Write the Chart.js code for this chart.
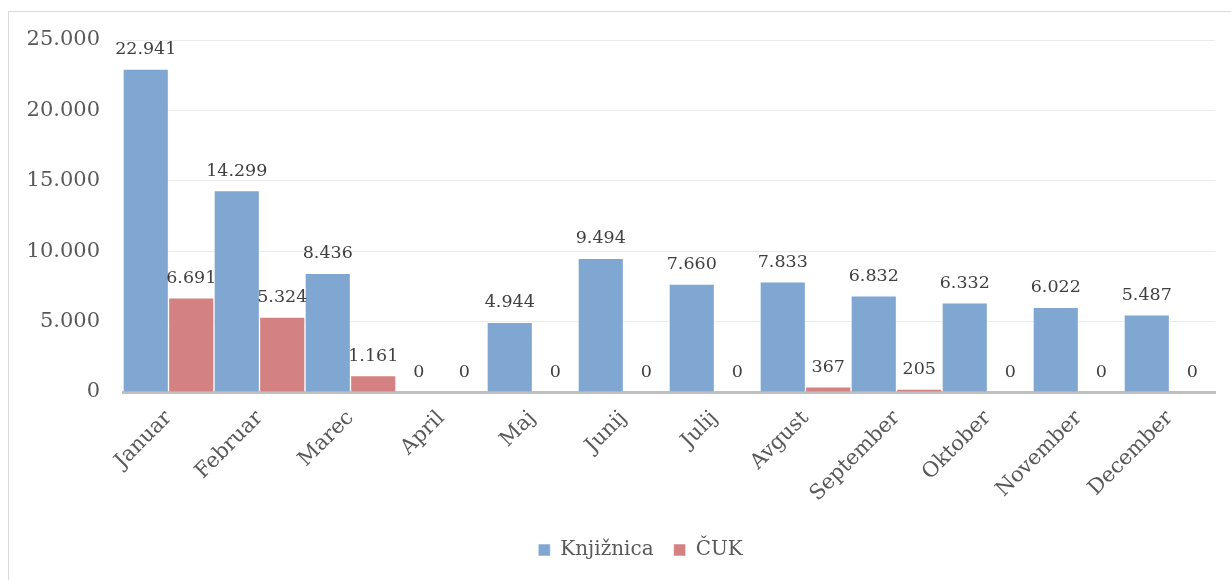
<!DOCTYPE html>
<html>
<head>
<meta charset="utf-8">
<script src="https://cdn.jsdelivr.net/npm/chart.js@4"></script>
<style>
  html, body { margin: 0; padding: 0; background: #fff; overflow: hidden; }
  #frame { position: absolute; left: 8px; top: 11px; width: 1300px; height: 700px; border: 1px solid #d9d9d9; }
  #wrap { position: absolute; left: 0; top: 0; width: 1231px; height: 580px; }
</style>
</head>
<body>
<div id="frame"></div>
<div id="wrap"><canvas id="chart" width="1231" height="580"></canvas></div>
<script>
const months = ['Januar','Februar','Marec','April','Maj','Junij','Julij','Avgust','September','Oktober','November','December'];
const knjiznica = [22941,14299,8436,0,4944,9494,7660,7833,6832,6332,6022,5487];
const cuk = [6691,5324,1161,0,0,0,0,367,205,0,0,0];

const serif = "'DejaVu Serif', 'Liberation Serif', serif";

// 22941 -> 22.941
const fmt = v => String(v).replace(/\B(?=(\d{3})+(?!\d))/g, '.');

const valueLabels = {
    id: 'valueLabels',
    afterDatasetsDraw(c) {
        const ctx = c.ctx;
        ctx.save();
        ctx.font = '17.5px ' + serif;
        ctx.fillStyle = '#404040';
        ctx.textAlign = 'center';
        ctx.textBaseline = 'alphabetic';
        c.data.datasets.forEach((ds, i) => {
            c.getDatasetMeta(i).data.forEach((bar, j) => {
                ctx.fillText(fmt(ds.data[j]), bar.x, bar.y - 15);
            });
        });
        ctx.restore();
    }
};

// legend in the original sits a bit right of the canvas centre
const shiftLegend = {
    id: 'shiftLegend',
    afterLayout(c) {
        c.legend.left += 33;
        c.legend.right += 33;
    }
};

const chart = document.querySelector('#chart').getContext('2d');

new Chart(chart, {
    type: 'bar',
    data: {
        labels: months,
        datasets: [
            {
                label: 'Knjižnica',
                data: knjiznica,
                backgroundColor: '#80a7d1',
                borderColor: 'rgba(255,255,255,0.5)',
                borderWidth: 1,
                barPercentage: 1,
                categoryPercentage: 1
            },
            {
                label: 'ČUK',
                data: cuk,
                backgroundColor: '#d48181',
                borderColor: 'rgba(255,255,255,0.5)',
                borderWidth: 1,
                barPercentage: 1,
                categoryPercentage: 1
            }
        ]
    },
    options: {
        responsive: false,
        animation: false,
        layout: { padding: { left: 0, right: 16, top: 40, bottom: 10 } },
        plugins: {
            tooltip: { enabled: false },
            legend: {
                position: 'bottom',
                labels: {
                    font: { family: serif, size: 20 },
                    color: '#595959',
                    boxWidth: 12,
                    boxHeight: 12,
                    padding: 20
                }
            }
        },
        scales: {
            x: {
                grid: { display: false, drawTicks: false },
                border: { color: '#bfbfbf', width: 3 },
                ticks: {
                    font: { family: serif, size: 21 },
                    color: '#595959',
                    maxRotation: 45,
                    minRotation: 45,
                    padding: 14
                },
                afterFit: s => { s.height = 128; }
            },
            y: {
                min: 0,
                max: 25000,
                grid: {
                    drawTicks: false,
                    color: ctx => ctx.tick.value === 0 ? 'rgba(0,0,0,0)' : '#ebebeb',
                    lineWidth: 1
                },
                border: { display: false },
                ticks: {
                    stepSize: 5000,
                    font: { family: serif, size: 21 },
                    color: '#595959',
                    padding: 23,
                    callback: v => fmt(v)
                },
                afterFit: s => { s.width = 123; }
            }
        }
    },
    plugins: [valueLabels, shiftLegend]
});
</script>
</body>
</html>
